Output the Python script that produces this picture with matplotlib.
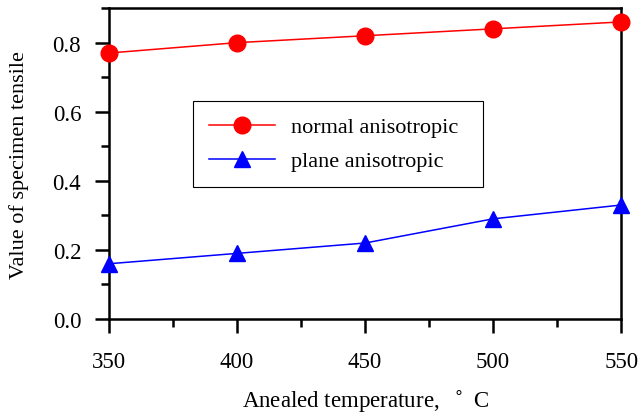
import matplotlib.pyplot as plt
from matplotlib.ticker import MultipleLocator

temperature = [350, 400, 450, 500, 550]
normal_anisotropic = [0.77, 0.80, 0.82, 0.84, 0.86]
plane_anisotropic = [0.16, 0.19, 0.22, 0.29, 0.33]

plt.rcParams['font.family'] = ['Liberation Serif', 'DejaVu Serif']

fig = plt.figure(figsize=(6.41, 4.14), dpi=100)
ax = fig.add_axes([0.170, 0.227, 0.799, 0.751])

ax.plot(temperature, normal_anisotropic, color='red', marker='o', markersize=12,
        linewidth=1.1, label='normal anisotropic', clip_on=False, zorder=3)
ax.plot(temperature, plane_anisotropic, color='blue', marker='^', markersize=11,
        linewidth=1.1, label='plane anisotropic', clip_on=False, zorder=3)

ax.set_xlim(350, 550)
ax.set_ylim(0, 0.9)
ax.xaxis.set_major_locator(MultipleLocator(50))
ax.xaxis.set_minor_locator(MultipleLocator(25))
ax.yaxis.set_major_locator(MultipleLocator(0.2))
ax.yaxis.set_minor_locator(MultipleLocator(0.1))
ax.yaxis.set_major_formatter(plt.FormatStrFormatter('%.1f'))

for s in ax.spines.values():
    s.set_linewidth(1.8)
ax.tick_params(which='major', direction='out', length=10, width=1.8, labelsize=16.5)
ax.tick_params(which='minor', direction='out', length=5.5, width=1.8)
ax.tick_params(axis='y', pad=10)
ax.tick_params(axis='x', pad=13)

ax.set_xlabel('Anealed temperature,  $^\\circ$ C', fontsize=16.5, labelpad=11)
ax.set_ylabel('Value of specimen tensile', fontsize=16, labelpad=17)

leg = ax.legend(loc='upper left', bbox_to_anchor=(0.164, 0.0, 0.566, 0.70), mode='expand',
                borderaxespad=0, fancybox=False, edgecolor='black', framealpha=1, fontsize=16,
                handlelength=3.0, borderpad=0.7, labelspacing=0.6, handletextpad=0.7)
leg.get_frame().set_linewidth(0.8)

fig.savefig('out.png', dpi=100)
